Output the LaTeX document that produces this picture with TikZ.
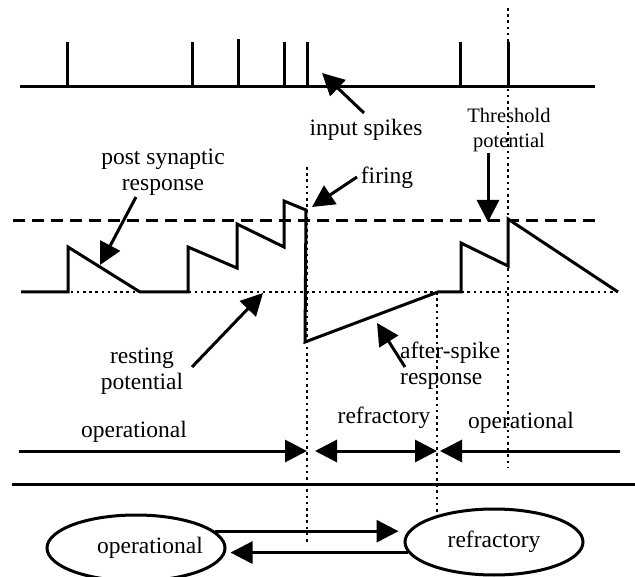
\documentclass[tikz,border=0pt]{standalone}
\usepackage{fontspec}
\setmainfont{Liberation Serif}
\usetikzlibrary{arrows.meta,shapes.geometric}

\tikzset{
  lbl/.style={font=\fontsize{23.5}{26}\selectfont, inner sep=0pt, align=center},
  smalllbl/.style={font=\fontsize{20.5}{25}\selectfont, inner sep=0pt, align=center},
  trace/.style={line width=3pt},
  tri/.style={-{Triangle[length=22pt,width=22pt]}, line width=3pt},
  twotri/.style={{Triangle[length=22pt,width=22pt]}-{Triangle[length=22pt,width=22pt]}, line width=3pt},
  dots/.style={line width=2.6pt, dash pattern=on 2.6pt off 3.6pt},
  level/.style={line width=3pt, dash pattern=on 12pt off 7pt},
  statebox/.style={draw, ellipse, line width=3pt, minimum width=178pt, minimum height=66pt, inner sep=0pt}
}

\begin{document}
\begin{tikzpicture}[x=1pt,y=-1pt]
   \useasboundingbox (0,0) rectangle (635,577);

   \draw[trace] (20,87) -- (595,87);
   \foreach \t/\h in {67/42,192/42,238/39,284/42,307/42,460/42,508/42}
      \draw[trace] (\t,87) -- (\t,\h);

   \draw[level] (13,221) -- (600,221);
   \draw[dots] (21,292) -- (618,292);

   \draw[dots] (307,167) -- (307,543);
   \draw[dots] (437,292) -- (437,513);
   \draw[dots] (508,8) -- (508,467);

   \draw[trace] (21,292) -- (68,292) -- (68,247) -- (140,292) -- (188,292)
      -- (188,247) -- (237,268) -- (237,224) -- (284,247) -- (284,201)
      -- (306,210) -- (305,342) -- (438,292) -- (461,292) -- (461,243)
      -- (508,266) -- (508,219) -- (618,292);

   \node[lbl] (inp) at (366,130) {input spikes};
   \node[smalllbl] (thr) at (509,130) {Threshold\\potential};
   \node[lbl] (psr) at (163,172) {post synaptic\\response};
   \node[lbl] (fir) at (387,178) {firing};
   \node[lbl] (rest) at (142,371) {resting\\potential};
   \node[lbl, align=left, anchor=west] (asr) at (400,366) {after-spike\\response};

   \coordinate (inpT) at (364,113);  \coordinate (inpH) at (322,73);
   \coordinate (thrT) at (488,153);  \coordinate (thrH) at (488,222);
   \coordinate (psrT) at (136,197);  \coordinate (psrH) at (100,265);
   \coordinate (firT) at (357,177);  \coordinate (firH) at (312,207);
   \coordinate (restT) at (192,367); \coordinate (restH) at (263,293);
   \coordinate (asrT) at (405,367);  \coordinate (asrH) at (377,323);
   \draw[tri] (inpT) -- (inpH);
   \draw[tri] (thrT) -- (thrH);
   \draw[tri] (psrT) -- (psrH);
   \draw[tri] (firT) -- (firH);
   \draw[tri] (restT) -- (restH);
   \draw[tri] (asrT) -- (asrH);

   \node[lbl] (opA) at (134,432) {operational};
   \node[lbl] (rfA) at (384,418) {refractory};
   \node[lbl] (opB) at (521,423) {operational};
   \coordinate (t0) at (19,451);
   \coordinate (tf) at (307,451);
   \coordinate (tr) at (437,451);
   \coordinate (te) at (620,451);
   \draw[tri] (t0) -- (tf);
   \draw[twotri] ([xshift=8]tf) -- (tr);
   \draw[tri] (te) -- ([xshift=3]tr);

   \draw[trace] (12,484) -- (635,484);

   \node[statebox, label={[lbl, xshift=14pt]center:operational}] (opS) at (136,548) {};
   \node[statebox, font=\fontsize{23.5}{26}\selectfont] (rfS) at (494,542) {refractory};
   \draw[tri, shorten >=5pt] (opS.12) -- (opS.12 -| rfS.west);
   \draw[tri, shorten >=4pt] (rfS.187) -- (rfS.187 -| opS.east);
\end{tikzpicture}
\end{document}
